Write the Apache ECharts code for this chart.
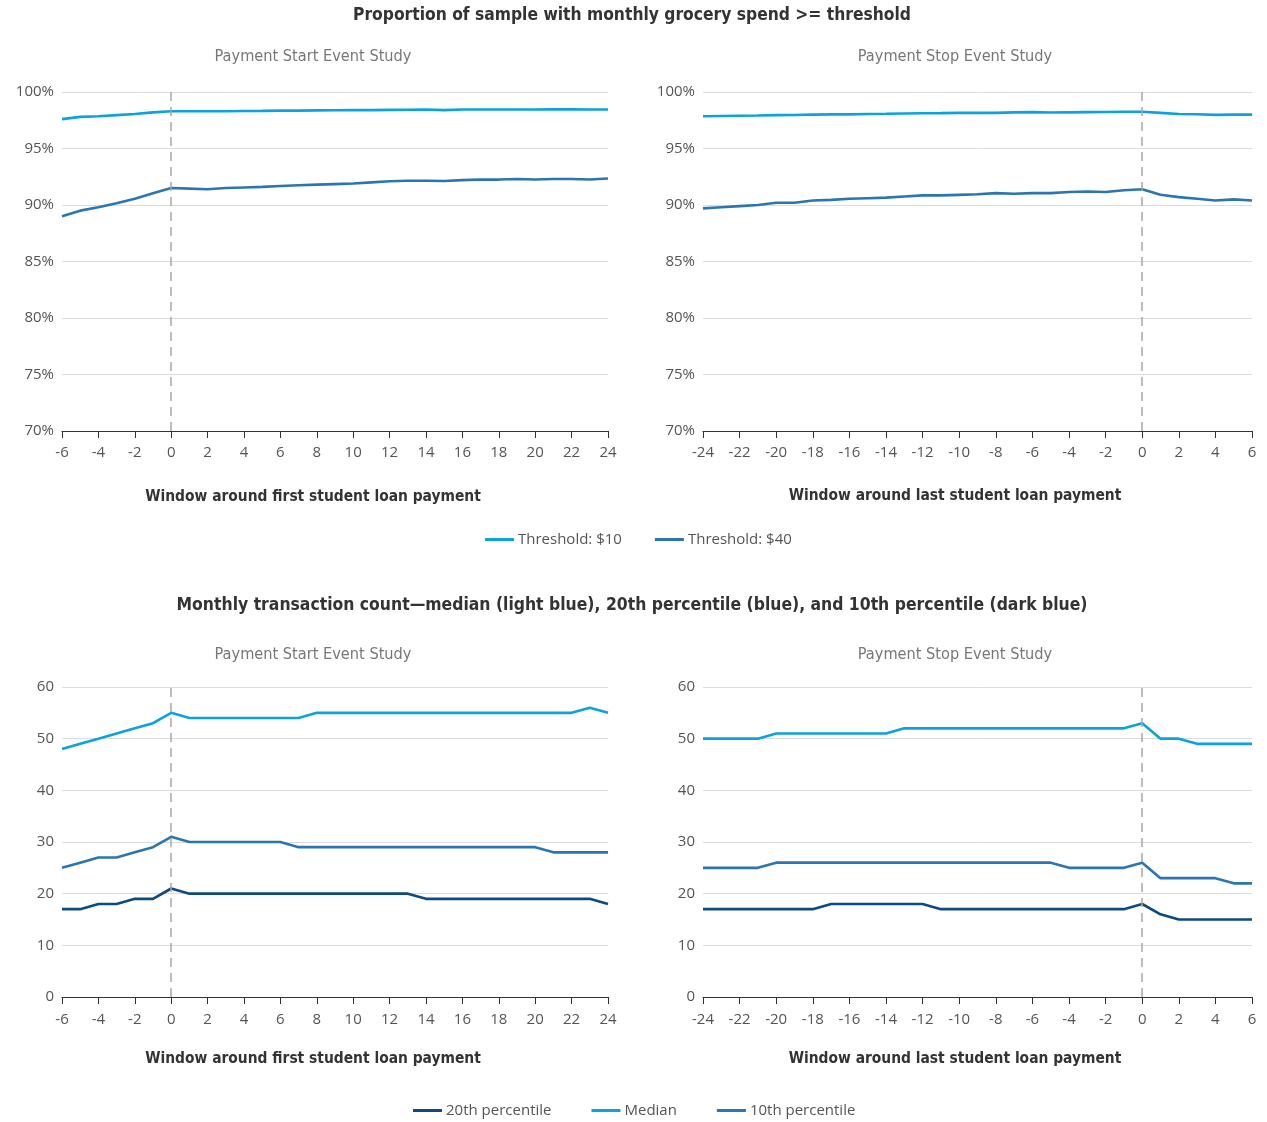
<!DOCTYPE html>
<html>
<head>
<meta charset="utf-8">
<script src="https://cdn.jsdelivr.net/npm/echarts@6/dist/echarts.min.js"></script>
<style>
  html, body { margin: 0; background: #fff; }
  #myChart { width: 1267px; height: 1122px; }
</style>
</head>
<body>
<div id="myChart"></div>
<script>
  // months relative to the event
  const startMonths = [-6, -5, -4, -3, -2, -1, 0, 1, 2, 3, 4, 5, 6, 7, 8, 9, 10, 11, 12, 13, 14, 15, 16, 17, 18, 19, 20, 21, 22, 23, 24];
  const stopMonths = [-24, -23, -22, -21, -20, -19, -18, -17, -16, -15, -14, -13, -12, -11, -10, -9, -8, -7, -6, -5, -4, -3, -2, -1, 0, 1, 2, 3, 4, 5, 6];

  // top panels: share of sample with grocery spend >= threshold (%)
  const start10 = [97.6, 97.8, 97.85, 97.95, 98.05, 98.2, 98.3, 98.3, 98.3, 98.3, 98.32, 98.33, 98.35, 98.35, 98.37, 98.38, 98.4, 98.4, 98.42, 98.43, 98.45, 98.4, 98.45, 98.45, 98.45, 98.45, 98.45, 98.46, 98.47, 98.45, 98.45];
  const start40 = [89.0, 89.5, 89.8, 90.15, 90.55, 91.05, 91.5, 91.45, 91.4, 91.5, 91.55, 91.6, 91.68, 91.75, 91.8, 91.85, 91.9, 92.0, 92.1, 92.15, 92.15, 92.13, 92.2, 92.25, 92.25, 92.3, 92.25, 92.3, 92.3, 92.25, 92.35];
  const stop10 = [97.85, 97.88, 97.9, 97.92, 97.95, 97.97, 98.0, 98.02, 98.02, 98.05, 98.07, 98.1, 98.12, 98.13, 98.15, 98.15, 98.15, 98.2, 98.22, 98.18, 98.2, 98.22, 98.23, 98.25, 98.25, 98.15, 98.05, 98.03, 97.98, 98.0, 98.0];
  const stop40 = [89.7, 89.8, 89.9, 90.0, 90.2, 90.2, 90.4, 90.45, 90.55, 90.6, 90.65, 90.75, 90.85, 90.85, 90.9, 90.95, 91.05, 91.0, 91.05, 91.05, 91.15, 91.2, 91.15, 91.3, 91.4, 90.9, 90.7, 90.55, 90.4, 90.5, 90.4];

  // bottom panels: monthly transaction counts
  const startMedian = [48, 49, 50, 51, 52, 53, 55, 54, 54, 54, 54, 54, 54, 54, 55, 55, 55, 55, 55, 55, 55, 55, 55, 55, 55, 55, 55, 55, 55, 56, 55];
  const startP10 = [25, 26, 27, 27, 28, 29, 31, 30, 30, 30, 30, 30, 30, 29, 29, 29, 29, 29, 29, 29, 29, 29, 29, 29, 29, 29, 29, 28, 28, 28, 28];
  const startP20 = [17, 17, 18, 18, 19, 19, 21, 20, 20, 20, 20, 20, 20, 20, 20, 20, 20, 20, 20, 20, 19, 19, 19, 19, 19, 19, 19, 19, 19, 19, 18];
  const stopMedian = [50, 50, 50, 50, 51, 51, 51, 51, 51, 51, 51, 52, 52, 52, 52, 52, 52, 52, 52, 52, 52, 52, 52, 52, 53, 50, 50, 49, 49, 49, 49];
  const stopP10 = [25, 25, 25, 25, 26, 26, 26, 26, 26, 26, 26, 26, 26, 26, 26, 26, 26, 26, 26, 26, 25, 25, 25, 25, 26, 23, 23, 23, 23, 22, 22];
  const stopP20 = [17, 17, 17, 17, 17, 17, 17, 18, 18, 18, 18, 18, 18, 17, 17, 17, 17, 17, 17, 17, 17, 17, 17, 17, 18, 16, 15, 15, 15, 15, 15];

  const lightBlue = '#0aa2df';
  const midBlue = '#2b76b2';
  const darkBlue = '#0c4a80';
  const textGray = '#555';
  const labelFont = "'Open Sans', 'Noto Sans', sans-serif";
  const boldFont = "'Liberation Sans Narrow', 'DejaVu Sans Condensed', 'Open Sans', sans-serif";

  function pairs (xs, ys) {
    return xs.map((x, i) => [x, ys[i]]);
  }

  function xAxisFor (idx, min, max, margin) {
    return {
      type: 'value', gridIndex: idx, min: min, max: max, interval: 2,
      axisLine: { show: true, onZero: false, lineStyle: { color: '#333', width: 1.2 } },
      axisTick: { show: true, length: 7, lineStyle: { color: '#333' } },
      axisLabel: { color: textGray, fontSize: 15, fontFamily: labelFont, margin: margin },
      splitLine: { show: false }
    };
  }

  function yAxisFor (idx, min, max, interval, fmt) {
    return {
      type: 'value', gridIndex: idx, min: min, max: max, interval: interval,
      axisLine: { show: false },
      axisTick: { show: false },
      axisLabel: { color: textGray, fontSize: 15, fontFamily: labelFont, margin: 8, formatter: fmt },
      splitLine: { lineStyle: { color: '#dcdcdc', width: 1 } }
    };
  }

  const zeroLine = {
    silent: true,
    symbol: 'none',
    label: { show: false },
    lineStyle: { color: '#a8a8a8', type: [9, 6], width: 1.5 },
    data: [{ xAxis: 0 }]
  };

  function lineSeries (name, idx, xs, ys, color, withMark) {
    let s = {
      name: name, type: 'line', xAxisIndex: idx, yAxisIndex: idx,
      data: pairs(xs, ys), symbol: 'none', smooth: false,
      lineStyle: { color: color, width: 2.6 }, itemStyle: { color: color },
      z: 3
    };
    if (withMark) s.markLine = zeroLine;
    return s;
  }

  function textEl (text, x, y, size, weight, color, family) {
    return {
      type: 'text', x: x, y: y, silent: true,
      style: {
        text: text, fill: color, textAlign: 'center', textVerticalAlign: 'middle',
        font: weight + ' ' + size + 'px ' + family
      }
    };
  }

  let option = {
    animation: false,
    backgroundColor: '#fff',
    grid: [
      { left: 62, width: 546, top: 92, height: 339 },
      { left: 703, width: 549, top: 92, height: 339 },
      { left: 62, width: 546, top: 687, height: 310 },
      { left: 703, width: 549, top: 687, height: 310 }
    ],
    xAxis: [
      xAxisFor(0, -6, 24, 14),
      xAxisFor(1, -24, 6, 14),
      xAxisFor(2, -6, 24, 15),
      xAxisFor(3, -24, 6, 15)
    ],
    yAxis: [
      yAxisFor(0, 70, 100, 5, '{value}%'),
      yAxisFor(1, 70, 100, 5, '{value}%'),
      yAxisFor(2, 0, 60, 10, '{value}'),
      yAxisFor(3, 0, 60, 10, '{value}')
    ],
    legend: [
      {
        data: ['Threshold: $10', 'Threshold: $40'],
        left: 480, top: 527, icon: 'rect', itemWidth: 29, itemHeight: 3, itemGap: 33,
        textStyle: { color: textGray, fontSize: 15, fontFamily: labelFont, padding: [0, 0, 0, -1] }
      },
      {
        data: ['20th percentile', 'Median', '10th percentile'],
        left: 408, top: 1098, icon: 'rect', itemWidth: 29, itemHeight: 3, itemGap: 40,
        textStyle: { color: textGray, fontSize: 15, fontFamily: labelFont, padding: [0, 0, 0, -1] }
      }
    ],
    graphic: [
      textEl('Proportion of sample with monthly grocery spend >= threshold', 632, 16, 17.3, 'bold', '#333', boldFont),
      textEl('Payment Start Event Study', 313, 57, 16.2, 'normal', '#777', boldFont),
      textEl('Payment Stop Event Study', 955, 57, 16.2, 'normal', '#777', boldFont),
      textEl('Window around first student loan payment', 313, 497, 15.4, 'bold', '#333', boldFont),
      textEl('Window around last student loan payment', 955, 496, 15.4, 'bold', '#333', boldFont),
      textEl('Monthly transaction count\u2014median (light blue), 20th percentile (blue), and 10th percentile (dark blue)', 632, 605, 17.4, 'bold', '#333', boldFont),
      textEl('Payment Start Event Study', 313, 655, 16.2, 'normal', '#777', boldFont),
      textEl('Payment Stop Event Study', 955, 655, 16.2, 'normal', '#777', boldFont),
      textEl('Window around first student loan payment', 313, 1059, 15.4, 'bold', '#333', boldFont),
      textEl('Window around last student loan payment', 955, 1059, 15.4, 'bold', '#333', boldFont)
    ],
    series: [
      lineSeries('Threshold: $10', 0, startMonths, start10, lightBlue, true),
      lineSeries('Threshold: $40', 0, startMonths, start40, midBlue, false),
      lineSeries('Threshold: $10', 1, stopMonths, stop10, lightBlue, true),
      lineSeries('Threshold: $40', 1, stopMonths, stop40, midBlue, false),
      lineSeries('20th percentile', 2, startMonths, startP20, darkBlue, true),
      lineSeries('Median', 2, startMonths, startMedian, lightBlue, false),
      lineSeries('10th percentile', 2, startMonths, startP10, midBlue, false),
      lineSeries('20th percentile', 3, stopMonths, stopP20, darkBlue, true),
      lineSeries('Median', 3, stopMonths, stopMedian, lightBlue, false),
      lineSeries('10th percentile', 3, stopMonths, stopP10, midBlue, false)
    ]
  };

  let myChart = echarts.init(document.getElementById('myChart'));
  myChart.setOption(option);
</script>
</body>
</html>
